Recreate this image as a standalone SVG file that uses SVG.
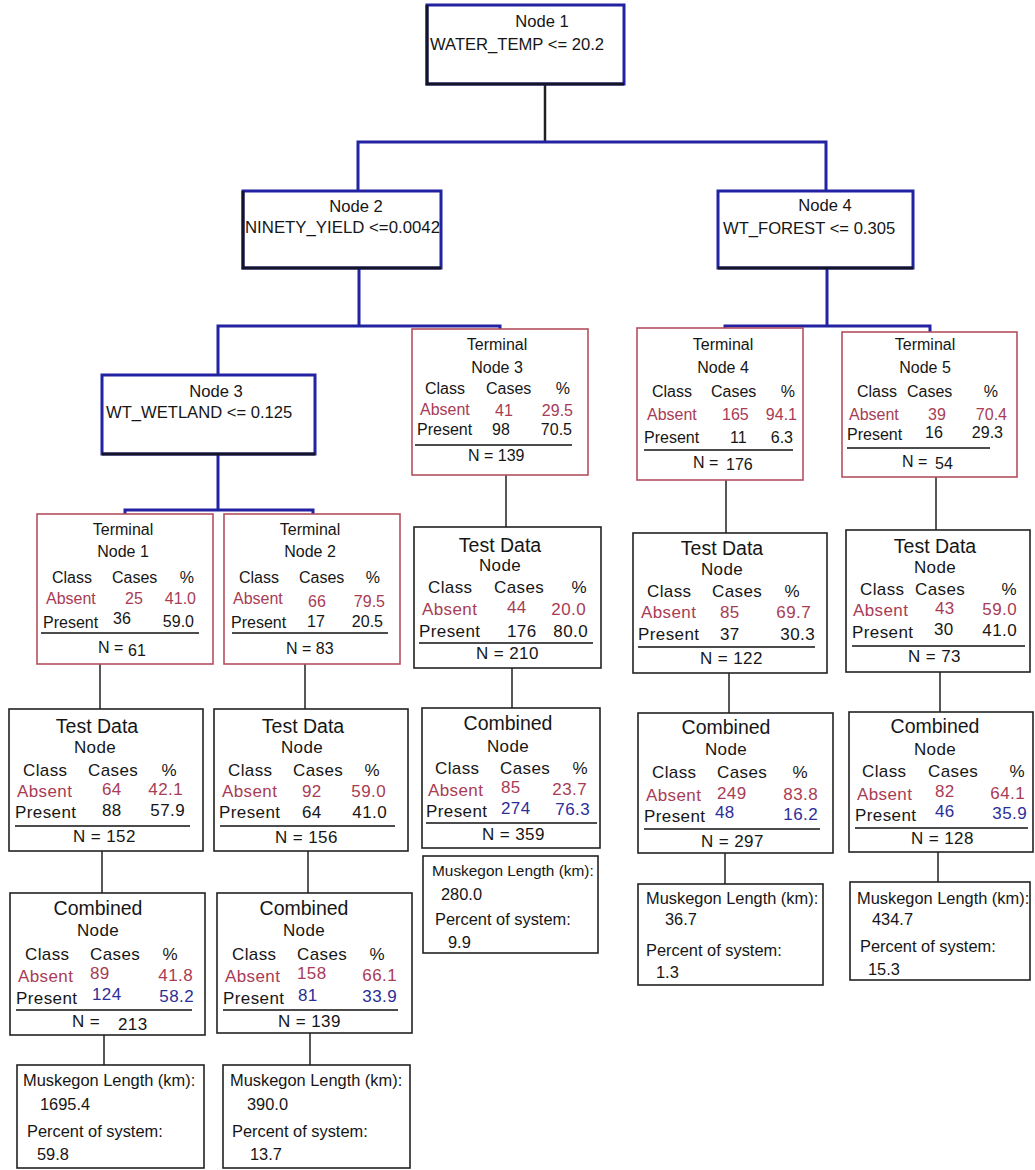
<svg xmlns="http://www.w3.org/2000/svg" width="1035" height="1170" viewBox="0 0 1035 1170">
<style>
text{font-family:"Liberation Sans",Arial,sans-serif;fill:#161616}
.s16{font-size:16px}
.s18{font-size:17px;letter-spacing:0.4px}
.s19{font-size:19.5px}
.s15{font-size:16.4px}
.sp{font-size:16.6px}
.m{text-anchor:middle}
.e{text-anchor:end}
.ab{fill:#a83c55}
.pr{fill:#2e2e98}
.split{fill:#fff;stroke:#2222a2;stroke-width:3}
.shade{fill:none;stroke:#141428;stroke-width:3}
.term{fill:#fff;stroke:#b4505e;stroke-width:1.6}
.data{fill:#fff;stroke:#222;stroke-width:1.6}
.rule{stroke:#111;stroke-width:1.6}
.bl{stroke:#2222a2;stroke-width:3;fill:none}
.kl{stroke:#222;stroke-width:1.5;fill:none}
</style>
<rect width="1035" height="1170" fill="#fff"/>
<g id="connectors">
<path class="kl" d="M545,84V142" style="stroke-width:2.5"/>
<path class="bl" d="M358,191V142H826V191"/>
<path class="bl" d="M359,268V326"/>
<path class="bl" d="M218,375V326H500V329"/>
<path class="bl" d="M827,268V326"/>
<path class="bl" d="M725,328V326H930V332"/>
<path class="bl" d="M218,454V510"/>
<path class="bl" d="M125,514V510H313V514"/>
<path class="kl" d="M100,664V709M102,851V893M104,1035V1065"/>
<path class="kl" d="M305,664V709M308,851V893M310,1033V1065"/>
<path class="kl" d="M506,475V527M512,668V708"/>
<path class="kl" d="M726,480V533M729,673V713M725,853V884"/>
<path class="kl" d="M936,477V530M940,672V712M938,852V882"/>
</g>
<g id="node1">
<rect class="split" x="427" y="5" width="197" height="79"/>
<path class="shade" d="M427,5V84H624"/>
<text class="sp m" x="542" y="27">Node 1</text>
<text class="sp" x="430" y="50">WATER_TEMP &lt;= 20.2</text>
</g>
<g id="node2">
<rect class="split" x="243" y="191" width="198" height="77"/>
<path class="shade" d="M243,191V268H441"/>
<text class="sp m" x="356" y="212">Node 2</text>
<text class="sp" x="245" y="233" style="font-size:16.8px">NINETY_YIELD &lt;=0.0042</text>
</g>
<g id="node4">
<rect class="split" x="718" y="191" width="195" height="77"/>
<path class="shade" d="M718,268H913"/>
<text class="sp m" x="825" y="211">Node 4</text>
<text class="sp" x="723" y="234">WT_FOREST &lt;= 0.305</text>
</g>
<g id="node3">
<rect class="split" x="102" y="375" width="213" height="79"/>
<path class="shade" d="M102,454H315"/>
<text class="sp m" x="216" y="397">Node 3</text>
<text class="sp" x="106" y="418">WT_WETLAND &lt;= 0.125</text>
</g>
<g id="terminal1" transform="translate(37,514)">
<rect class="term" width="176" height="150"/>
<text class="s16 m" x="86" y="21">Terminal</text>
<text class="s16 m" x="86" y="43">Node 1</text>
<text class="s16" x="15" y="69">Class</text><text class="s16" x="75" y="69">Cases</text><text class="s16 e" x="157" y="69">%</text>
<text class="s16 ab" x="9" y="90">Absent</text><text class="s16 ab" x="88" y="90">25</text><text class="s16 ab e" x="159" y="90">41.0</text>
<text class="s16" x="6" y="114">Present</text><text class="s16" x="76" y="110">36</text><text class="s16 e" x="157" y="113">59.0</text>
<line class="rule" x1="4" y1="119" x2="162" y2="119"/>
<text class="s16" x="61" y="139">N =</text><text class="s16" x="91" y="142">61</text>
</g>
<g id="terminal2" transform="translate(224,514)">
<rect class="term" width="176" height="150"/>
<text class="s16 m" x="86" y="21">Terminal</text>
<text class="s16 m" x="86" y="43">Node 2</text>
<text class="s16" x="15" y="69">Class</text><text class="s16" x="75" y="69">Cases</text><text class="s16 e" x="156" y="69">%</text>
<text class="s16 ab" x="9" y="90">Absent</text><text class="s16 ab" x="84" y="93">66</text><text class="s16 ab e" x="161" y="93">79.5</text>
<text class="s16" x="7" y="114">Present</text><text class="s16" x="83" y="113">17</text><text class="s16 e" x="159" y="113">20.5</text>
<line class="rule" x1="8" y1="119" x2="164" y2="119"/>
<text class="s16" x="62" y="140">N = 83</text>
</g>
<g id="terminal3" transform="translate(412,329)">
<rect class="term" width="176" height="146"/>
<text class="s16 m" x="85" y="21">Terminal</text>
<text class="s16 m" x="85" y="44">Node 3</text>
<text class="s16" x="13" y="65">Class</text><text class="s16" x="74" y="65">Cases</text><text class="s16 e" x="158" y="65">%</text>
<text class="s16 ab" x="8" y="86">Absent</text><text class="s16 ab" x="83" y="87">41</text><text class="s16 ab e" x="161" y="87">29.5</text>
<text class="s16" x="5" y="106">Present</text><text class="s16" x="80" y="106">98</text><text class="s16 e" x="160" y="106">70.5</text>
<line class="rule" x1="3" y1="116" x2="160" y2="116"/>
<text class="s16" x="56" y="132">N = 139</text>
</g>
<g id="terminal4" transform="translate(637,328)">
<rect class="term" width="166" height="152"/>
<text class="s16 m" x="86" y="22">Terminal</text>
<text class="s16 m" x="86" y="45">Node 4</text>
<text class="s16" x="15" y="69">Class</text><text class="s16" x="74" y="69">Cases</text><text class="s16 e" x="158" y="69">%</text>
<text class="s16 ab" x="10" y="92">Absent</text><text class="s16 ab" x="85" y="92">165</text><text class="s16 ab e" x="160" y="92">94.1</text>
<text class="s16" x="7" y="115">Present</text><text class="s16" x="93" y="115">11</text><text class="s16 e" x="156" y="115">6.3</text>
<line class="rule" x1="7" y1="122" x2="156" y2="122"/>
<text class="s16" x="56" y="140">N =</text><text class="s16" x="89" y="142">176</text>
</g>
<g id="terminal5" transform="translate(842,332)">
<rect class="term" width="175" height="145"/>
<text class="s16 m" x="83" y="18">Terminal</text>
<text class="s16 m" x="83" y="41">Node 5</text>
<text class="s16" x="15" y="65">Class</text><text class="s16" x="65" y="65">Cases</text><text class="s16 e" x="156" y="65">%</text>
<text class="s16 ab" x="7" y="88">Absent</text><text class="s16 ab" x="86" y="88">39</text><text class="s16 ab e" x="165" y="88">70.4</text>
<text class="s16" x="5" y="108">Present</text><text class="s16" x="83" y="106">16</text><text class="s16 e" x="161" y="106">29.3</text>
<line class="rule" x1="5" y1="116" x2="148" y2="116"/>
<text class="s16" x="60" y="135">N =</text><text class="s16" x="93" y="137">54</text>
</g>
<g id="testdata1" transform="translate(9,709)">
<rect class="data" width="194" height="142"/>
<text class="s19 m" x="88" y="24">Test Data</text>
<text class="s18 m" x="86" y="44">Node</text>
<text class="s18" x="14" y="67">Class</text><text class="s18" x="79" y="67">Cases</text><text class="s18 e" x="168" y="67">%</text>
<text class="s18 ab" x="8" y="88">Absent</text><text class="s18 ab" x="93" y="86">64</text><text class="s18 ab e" x="174" y="86">42.1</text>
<text class="s18" x="6" y="109">Present</text><text class="s18" x="93" y="107">88</text><text class="s18 e" x="176" y="107">57.9</text>
<line class="rule" x1="6" y1="117" x2="181" y2="117"/>
<text class="s18" x="64" y="133">N = 152</text>
</g>
<g id="testdata2" transform="translate(214,709)">
<rect class="data" width="194" height="142"/>
<text class="s19 m" x="89" y="24">Test Data</text>
<text class="s18 m" x="88" y="44">Node</text>
<text class="s18" x="14" y="67">Class</text><text class="s18" x="79" y="67">Cases</text><text class="s18 e" x="166" y="67">%</text>
<text class="s18 ab" x="8" y="88">Absent</text><text class="s18 ab" x="88" y="88">92</text><text class="s18 ab e" x="172" y="88">59.0</text>
<text class="s18" x="5" y="109">Present</text><text class="s18" x="88" y="109">64</text><text class="s18 e" x="173" y="109">41.0</text>
<line class="rule" x1="6" y1="117" x2="181" y2="117"/>
<text class="s18" x="61" y="134">N = 156</text>
</g>
<g id="testdata3" transform="translate(414,527)">
<rect class="data" width="187" height="141"/>
<text class="s19 m" x="86" y="25">Test Data</text>
<text class="s18 m" x="86" y="44">Node</text>
<text class="s18" x="14" y="66">Class</text><text class="s18" x="80" y="66">Cases</text><text class="s18 e" x="173" y="66">%</text>
<text class="s18 ab" x="8" y="88">Absent</text><text class="s18 ab" x="93" y="86">44</text><text class="s18 ab e" x="172" y="88">20.0</text>
<text class="s18" x="5" y="110">Present</text><text class="s18" x="93" y="110">176</text><text class="s18 e" x="174" y="110">80.0</text>
<line class="rule" x1="5" y1="116" x2="179" y2="116"/>
<text class="s18" x="62" y="132">N = 210</text>
</g>
<g id="testdata4" transform="translate(633,533)">
<rect class="data" width="194" height="140"/>
<text class="s19 m" x="89" y="22">Test Data</text>
<text class="s18 m" x="89" y="42">Node</text>
<text class="s18" x="14" y="64">Class</text><text class="s18" x="79" y="64">Cases</text><text class="s18 e" x="167" y="64">%</text>
<text class="s18 ab" x="8" y="85">Absent</text><text class="s18 ab" x="87" y="85">85</text><text class="s18 ab e" x="178" y="85">69.7</text>
<text class="s18" x="5" y="107">Present</text><text class="s18" x="87" y="107">37</text><text class="s18 e" x="182" y="107">30.3</text>
<line class="rule" x1="5" y1="114" x2="182" y2="114"/>
<text class="s18" x="67" y="131">N = 122</text>
</g>
<g id="testdata5" transform="translate(846,530)">
<rect class="data" width="184" height="142"/>
<text class="s19 m" x="89" y="23">Test Data</text>
<text class="s18 m" x="89" y="43">Node</text>
<text class="s18" x="14" y="65">Class</text><text class="s18" x="69" y="65">Cases</text><text class="s18 e" x="171" y="65">%</text>
<text class="s18 ab" x="7" y="86">Absent</text><text class="s18 ab" x="89" y="84">43</text><text class="s18 ab e" x="171" y="85">59.0</text>
<text class="s18" x="6" y="108">Present</text><text class="s18" x="88" y="105">30</text><text class="s18 e" x="171" y="106">41.0</text>
<line class="rule" x1="6" y1="116" x2="179" y2="116"/>
<text class="s18" x="62" y="132">N = 73</text>
</g>
<g id="combined1" transform="translate(10,893)">
<rect class="data" width="195" height="142"/>
<text class="s19 m" x="88" y="22">Combined</text>
<text class="s18 m" x="88" y="43">Node</text>
<text class="s18" x="15" y="67">Class</text><text class="s18" x="80" y="67">Cases</text><text class="s18 e" x="168" y="67">%</text>
<text class="s18 ab" x="8" y="89">Absent</text><text class="s18 ab" x="80" y="86">89</text><text class="s18 ab e" x="183" y="88">41.8</text>
<text class="s18" x="6" y="111">Present</text><text class="s18 pr" x="82" y="107">124</text><text class="s18 pr e" x="184" y="109">58.2</text>
<line class="rule" x1="6" y1="117" x2="182" y2="117"/>
<text class="s18" x="62" y="134">N =</text><text class="s18" x="108" y="137">213</text>
</g>
<g id="combined2" transform="translate(217,893)">
<rect class="data" width="195" height="140"/>
<text class="s19 m" x="87" y="22">Combined</text>
<text class="s18 m" x="87" y="43">Node</text>
<text class="s18" x="15" y="67">Class</text><text class="s18" x="80" y="67">Cases</text><text class="s18 e" x="168" y="67">%</text>
<text class="s18 ab" x="8" y="89">Absent</text><text class="s18 ab" x="80" y="86">158</text><text class="s18 ab e" x="180" y="88">66.1</text>
<text class="s18" x="6" y="111">Present</text><text class="s18 pr" x="81" y="108">81</text><text class="s18 pr e" x="180" y="109">33.9</text>
<line class="rule" x1="6" y1="117" x2="181" y2="117"/>
<text class="s18" x="61" y="134">N = 139</text>
</g>
<g id="combined3" transform="translate(422,708)">
<rect class="data" width="178" height="140"/>
<text class="s19 m" x="86" y="22">Combined</text>
<text class="s18 m" x="86" y="44">Node</text>
<text class="s18" x="13" y="66">Class</text><text class="s18" x="78" y="66">Cases</text><text class="s18 e" x="166" y="66">%</text>
<text class="s18 ab" x="6" y="88">Absent</text><text class="s18 ab" x="79" y="85">85</text><text class="s18 ab e" x="165" y="87">23.7</text>
<text class="s18" x="4" y="109">Present</text><text class="s18 pr" x="79" y="106">274</text><text class="s18 pr e" x="168" y="107">76.3</text>
<line class="rule" x1="4" y1="115" x2="175" y2="115"/>
<text class="s18" x="60" y="132">N = 359</text>
</g>
<g id="combined4" transform="translate(638,713)">
<rect class="data" width="195" height="140"/>
<text class="s19 m" x="88" y="21">Combined</text>
<text class="s18 m" x="88" y="42">Node</text>
<text class="s18" x="14" y="65">Class</text><text class="s18" x="79" y="65">Cases</text><text class="s18 e" x="170" y="65">%</text>
<text class="s18 ab" x="8" y="88">Absent</text><text class="s18 ab" x="79" y="86">249</text><text class="s18 ab e" x="180" y="87">83.8</text>
<text class="s18" x="6" y="109">Present</text><text class="s18 pr" x="77" y="105">48</text><text class="s18 pr e" x="180" y="107">16.2</text>
<line class="rule" x1="6" y1="116" x2="182" y2="116"/>
<text class="s18" x="63" y="134">N = 297</text>
</g>
<g id="combined5" transform="translate(849,712)">
<rect class="data" width="184" height="140"/>
<text class="s19 m" x="86" y="21">Combined</text>
<text class="s18 m" x="86" y="43">Node</text>
<text class="s18" x="13" y="65">Class</text><text class="s18" x="79" y="65">Cases</text><text class="s18 e" x="176" y="65">%</text>
<text class="s18 ab" x="8" y="88">Absent</text><text class="s18 ab" x="86" y="85">82</text><text class="s18 ab e" x="176" y="87">64.1</text>
<text class="s18" x="6" y="109">Present</text><text class="s18 pr" x="86" y="105">46</text><text class="s18 pr e" x="178" y="107">35.9</text>
<line class="rule" x1="6" y1="116" x2="179" y2="116"/>
<text class="s18" x="62" y="132">N = 128</text>
</g>
<g id="muskegon1" transform="translate(17,1065)">
<rect class="data" width="187" height="103"/>
<text class="s15" x="6" y="21">Muskegon Length (km):</text>
<text class="s15" x="23" y="45">1695.4</text>
<text class="s15" x="10" y="72">Percent of system:</text>
<text class="s15" x="20" y="95">59.8</text>
</g>
<g id="muskegon2" transform="translate(223,1065)">
<rect class="data" width="187" height="103"/>
<text class="s15" x="7" y="21">Muskegon Length (km):</text>
<text class="s15" x="24" y="45">390.0</text>
<text class="s15" x="9" y="72">Percent of system:</text>
<text class="s15" x="27" y="95">13.7</text>
</g>
<g id="muskegon3" transform="translate(423,856)">
<rect class="data" width="175" height="97"/>
<text class="s15" x="9" y="20" style="font-size:15.4px">Muskegon Length (km):</text>
<text class="s15" x="18" y="44">280.0</text>
<text class="s15" x="12" y="69">Percent of system:</text>
<text class="s15" x="25" y="92">9.9</text>
</g>
<g id="muskegon4" transform="translate(638,884)">
<rect class="data" width="185" height="101"/>
<text class="s15" x="8" y="20">Muskegon Length (km):</text>
<text class="s15" x="27" y="41">36.7</text>
<text class="s15" x="8" y="72">Percent of system:</text>
<text class="s15" x="18" y="94">1.3</text>
</g>
<g id="muskegon5" transform="translate(850,882)">
<rect class="data" width="180" height="98"/>
<text class="s15" x="7" y="22">Muskegon Length (km):</text>
<text class="s15" x="22" y="43">434.7</text>
<text class="s15" x="10" y="70">Percent of system:</text>
<text class="s15" x="18" y="93">15.3</text>
</g>
</svg>
